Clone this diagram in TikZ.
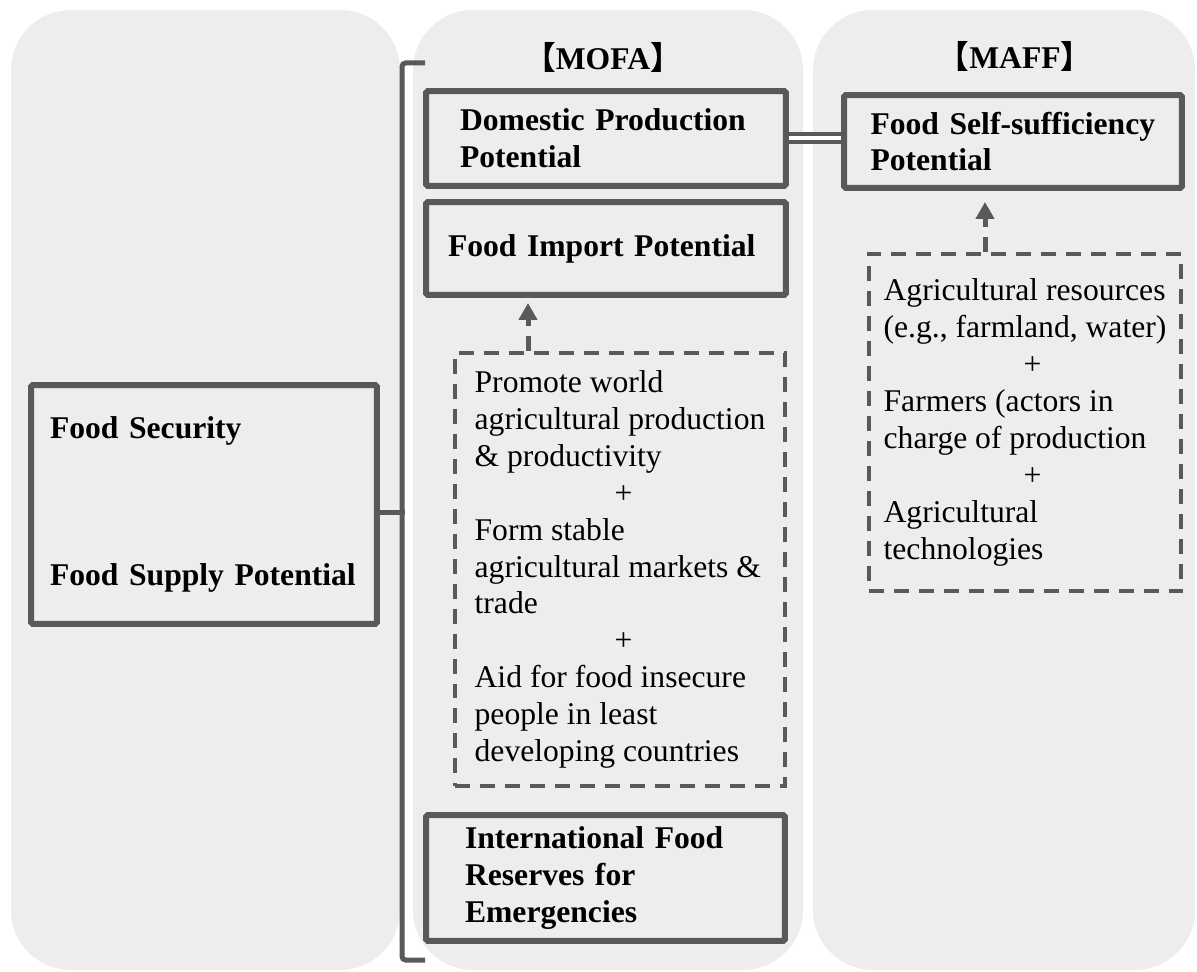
\documentclass[tikz,border=0pt]{standalone}
\usepackage{fontspec}
\setmainfont{Liberation Serif}
\newfontfamily\cjkfont{Noto Sans CJK JP}
\usetikzlibrary{arrows.meta,calc}
\definecolor{panelgray}{HTML}{EDEDED}
\definecolor{linegray}{HTML}{595959}
\tikzset{ %x=0.02cm per unit below
  {panel/.style} ={fill=panelgray, draw=none, rounded corners=1.2cm},
  {head/.style} ={anchor=base, font=\fontsize{18}{21}\selectfont\bfseries},
  {pot box/.style} ={draw=linegray, line width=0.12cm, rounded corners=1pt,
                inner sep=0pt, align=left,
                font=\fontsize{18}{21}\selectfont\bfseries},
  {note/.style} ={draw=linegray, line width=0.08cm,
                dash pattern=on 0.3cm off 0.2cm, inner ysep=0pt, align=left,
                font=\fontsize{18}{21}\selectfont},
  {bracket/.style} ={draw=linegray, line width=0.1cm, rounded corners=2pt},
  {link/.style} ={draw=linegray, line width=0.08cm, double=white,
                double distance=0.08cm},
  {up flow/.style} ={draw=linegray, line width=0.1cm,
                dash pattern=on 0.3cm off 0.2cm,
                -{Triangle[length=0.34cm,width=0.36cm]}},
 }
\newcommand{\plusline}{\hspace*{2.8cm}+}

\begin{document}
\begin{tikzpicture}[x=0.02cm, y=-0.02cm]
\useasboundingbox (0,0) rectangle (1197,972);
% columns
\fill[panel] (11,10) rectangle (400,970);
\fill[panel] (413,10) rectangle (803,970);
\fill[panel] (813,10) rectangle (1195,970);

\node[head] (mofa) at (603,70) {{\cjkfont 【}MOFA{\cjkfont 】}};
\node[head] (maff) at (1015,69) {{\cjkfont 【}MAFF{\cjkfont 】}};

\node[pot box, minimum width=6.92cm, minimum height=4.78cm, text width=6.16cm]
  (sec) at (204,504.5) {Food Security\\[63pt]Food Supply Potential};
\node[pot box, minimum width=7.2cm, minimum height=1.9cm, text width=5.84cm]
  (dom) at (606,138.5) {Domestic Production\\Potential};
\node[pot box, minimum width=7.2cm, minimum height=1.86cm, text width=6.32cm]
  (imp) at (606,248.5) {Food Import Potential};
\node[pot box, minimum width=7.18cm, minimum height=2.52cm, text width=5.62cm]
  (res) at (605.5,878) {International Food\\Reserves for\\Emergencies};
\node[pot box, minimum width=6.76cm, minimum height=1.86cm, text width=5.7cm]
  (self) at (1013,141.5) {Food Self-sufficiency\\Potential};

\node[note, inner xsep=0.4cm, minimum height=8.66cm] (mofanote) at (620,569.5)
  {Promote world\\agricultural production\\\& productivity\\\plusline\\
   Form stable\\agricultural markets \&\\trade\\\plusline\\
   Aid for food insecure\\people in least\\developing countries};
\node[note, inner xsep=0.3cm, minimum height=6.74cm] (maffnote) at (1025,422.5)
  {Agricultural resources\\(e.g., farmland, water)\\\plusline\\
   Farmers (actors in\\charge of production\\\plusline\\
   Agricultural\\technologies};

% measures feeding the potentials
\draw[up flow, shorten >=0.1cm] ($(mofanote.north)+(-92,0)$) coordinate (mofaup)
  -- (mofaup |- imp.south);
\draw[up flow, shorten >=0.22cm] ($(maffnote.north)+(-40,0)$) coordinate (maffup)
  -- (maffup |- self.south);

\draw[link] (dom.east) -- (dom.east -| self.west);

% bracket joining the supply side
\coordinate (bracetop) at (425,63);
\coordinate (bracebot) at (425,960);
\draw[bracket] (bracetop) -- ++(-23,0) |- (bracebot);
\draw[bracket] ([yshift=-0.17cm]sec.east) -- ++(25,0);
\end{tikzpicture}
\end{document}
